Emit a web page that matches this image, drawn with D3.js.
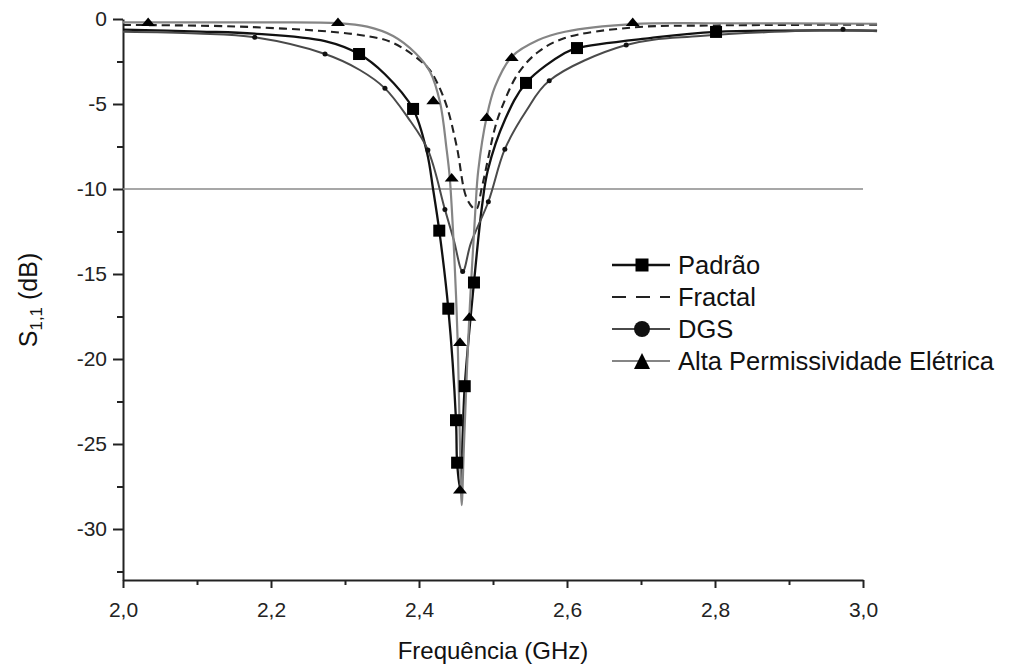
<!DOCTYPE html>
<html>
<head>
<meta charset="utf-8">
<script src="https://cdn.jsdelivr.net/npm/d3@7"></script>
<style>
  body { margin: 0; background: #fff; }
  svg { display: block; font-family: "Liberation Sans", Arial, sans-serif; }
</style>
</head>
<body>
<div id="chart"></div>
<script>
// curvas (frequência em GHz, S11 em dB)
const padraoFreq = [2.000, 2.104, 2.178, 2.273, 2.319, 2.354, 2.392, 2.411, 2.419, 2.4274, 2.4396, 2.4500, 2.4515, 2.4555, 2.4618, 2.4743, 2.485, 2.493, 2.516, 2.5446, 2.597, 2.6135, 2.712, 2.8014, 3.019];
const padraoS11 = [-0.62, -0.74, -0.86, -1.3, -2.06, -3.25, -5.29, -7.9, -10.0, -12.45, -17.04, -23.6, -26.1, -27.6, -21.6, -15.5, -11.06, -8.9, -5.94, -3.76, -2.0, -1.71, -1.12, -0.76, -0.68];
const padraoMarkFreq = [2.319, 2.392, 2.4274, 2.4396, 2.4500, 2.4515, 2.4618, 2.4743, 2.5446, 2.6135, 2.8014];
const padraoMarkS11 = [-2.06, -5.29, -12.45, -17.04, -23.6, -26.1, -21.6, -15.5, -3.76, -1.71, -0.76];

const fractalFreq = [2.000, 2.172, 2.320, 2.365, 2.411, 2.424, 2.438, 2.451, 2.465, 2.477, 2.485, 2.503, 2.512, 2.534, 2.561, 2.597, 2.688, 2.800, 3.019];
const fractalS11 = [-0.35, -0.47, -0.94, -1.41, -2.82, -3.7, -5.2, -7.5, -10.6, -11.2, -9.9, -6.35, -5.2, -3.2, -1.94, -1.12, -0.5, -0.38, -0.33];

const dgsFreq = [2.000, 2.100, 2.178, 2.273, 2.320, 2.354, 2.385, 2.412, 2.435, 2.447, 2.459, 2.470, 2.4937, 2.516, 2.545, 2.576, 2.680, 2.780, 2.973, 3.019];
const dgsS11 = [-0.75, -0.85, -1.08, -2.06, -3.0, -4.08, -5.8, -7.7, -11.2, -13.0, -14.86, -13.2, -10.75, -7.66, -5.4, -3.63, -1.53, -1.0, -0.65, -0.72];
const dgsMarkFreq = [2.178, 2.273, 2.354, 2.412, 2.435, 2.459, 2.4937, 2.516, 2.576, 2.680, 2.973];
const dgsMarkS11 = [-1.08, -2.06, -4.08, -7.7, -11.2, -14.86, -10.75, -7.66, -3.63, -1.53, -0.6];

const altaFreq = [2.000, 2.034, 2.172, 2.290, 2.330, 2.365, 2.395, 2.4149, 2.4284, 2.4374, 2.4415, 2.4473, 2.4523, 2.4564, 2.4577, 2.4608, 2.4680, 2.4764, 2.4801, 2.4915, 2.5027, 2.5253, 2.5612, 2.5973, 2.6888, 2.800, 3.019];
const altaS11 = [-0.20, -0.20, -0.20, -0.24, -0.45, -1.0, -2.0, -3.1, -4.9, -7.7, -9.3, -13.6, -19.0, -27.3, -28.6, -25.0, -17.5, -11.06, -8.9, -5.75, -3.98, -2.22, -1.24, -0.75, -0.30, -0.25, -0.28];
const altaMarkFreq = [2.034, 2.2905, 2.4193, 2.4442, 2.4554, 2.4554, 2.4680, 2.4915, 2.5253, 2.6888];
const altaMarkS11 = [-0.16, -0.16, -4.76, -9.31, -18.98, -27.65, -17.5, -5.75, -2.22, -0.16];

const xTicks = [2.0, 2.2, 2.4, 2.6, 2.8, 3.0];
const xMinor = [2.1, 2.3, 2.5, 2.7, 2.9];
const yTicks = [0, -5, -10, -15, -20, -25, -30];
const yMinor = [-2.5, -7.5, -12.5, -17.5, -22.5, -27.5, -32.5];
const refLevel = -10;
const legendNames = ["Padrão", "Fractal", "DGS", "Alta Permissividade Elétrica"];

const svgWidth = 1016, svgHeight = 668;
const margin = { top: 19, left: 123 };
const width = 740, height = 561;

const x = d3.scaleLinear().domain([2, 3]).range([0, width]);
const y = d3.scaleLinear().domain([0, -33]).range([0, height]);

const svg = d3.select("#chart")
    .append("svg")
    .attr("width", svgWidth)
    .attr("height", svgHeight);

const g = svg.append("g")
    .attr("transform", `translate(${margin.left},${margin.top})`);

const comma = d => d.toFixed(1).replace(".", ",");

// eixos
const xAxis = g.append("g")
    .attr("transform", `translate(0,${height})`)
    .call(d3.axisBottom(x).tickValues(xTicks).tickFormat(comma).tickSize(8).tickSizeOuter(0));
g.append("g")
    .attr("transform", `translate(0,${height})`)
    .call(d3.axisBottom(x).tickValues(xMinor).tickFormat("").tickSize(5).tickSizeOuter(0))
    .select(".domain").remove();

const yAxis = g.append("g")
    .call(d3.axisLeft(y).tickValues(yTicks).tickFormat(d => String(d)).tickSize(10).tickSizeOuter(0));
g.append("g")
    .call(d3.axisLeft(y).tickValues(yMinor).tickFormat("").tickSize(6).tickSizeOuter(0))
    .select(".domain").remove();

g.selectAll(".domain").attr("stroke", "#222").attr("stroke-width", 2);
g.selectAll(".tick line").attr("stroke", "#222").attr("stroke-width", 2);
g.selectAll(".tick text")
    .attr("fill", "#222")
    .style("font-size", "21px")
    .style("font-family", "'Liberation Sans', Arial, sans-serif");
xAxis.selectAll(".tick text").attr("y", 22);
yAxis.selectAll(".tick text").attr("x", -16);

// linha de referência em -10 dB
g.append("line")
    .attr("x1", x(2)).attr("x2", x(3))
    .attr("y1", y(refLevel)).attr("y2", y(refLevel))
    .attr("stroke", "#8a8a8a")
    .attr("stroke-width", 1.3);

const line = d3.line()
    .x(d => x(d[0]))
    .y(d => y(d[1]))
    .curve(d3.curveCatmullRom.alpha(0.5));

const zip = (a, b) => a.map((v, i) => [v, b[i]]);

const series = [
    { name: legendNames[0], pts: zip(padraoFreq, padraoS11), marks: zip(padraoMarkFreq, padraoMarkS11), color: "#111", width: 2.3, dash: null, marker: "square" },
    { name: legendNames[1], pts: zip(fractalFreq, fractalS11), marks: [], color: "#222", width: 2.1, dash: "8,5", marker: null },
    { name: legendNames[2], pts: zip(dgsFreq, dgsS11), marks: zip(dgsMarkFreq, dgsMarkS11), color: "#4a4a4a", width: 2, dash: null, marker: "dot" },
    { name: legendNames[3], pts: zip(altaFreq, altaS11), marks: zip(altaMarkFreq, altaMarkS11), color: "#858585", width: 2.2, dash: null, marker: "tri" }
];

function drawMarker(sel, type, size) {
    if (type === "square") {
        sel.append("rect")
            .attr("x", -size / 2).attr("y", -size / 2)
            .attr("width", size).attr("height", size)
            .attr("fill", "#000");
    } else if (type === "dot") {
        sel.append("circle").attr("r", size / 2).attr("fill", "#111");
    } else if (type === "tri") {
        const w = size, h = size * (sel.classed("legend-mark") ? 1 : 0.62);
        sel.append("path")
            .attr("d", `M${-w / 2},${h / 2}L${w / 2},${h / 2}L0,${-h / 2}Z`)
            .attr("fill", "#000");
    }
}

series.forEach(s => {
    g.append("path")
        .datum(s.pts)
        .attr("fill", "none")
        .attr("stroke", s.color)
        .attr("stroke-width", s.width)
        .attr("stroke-dasharray", s.dash)
        .attr("d", line);
});

series.forEach(s => {
    const size = s.marker === "square" ? 12 : s.marker === "dot" ? 5 : 14;
    g.selectAll(null)
        .data(s.marks)
        .enter().append("g")
        .attr("transform", d => `translate(${x(d[0])},${y(d[1])})`)
        .each(function () { drawMarker(d3.select(this), s.marker, size); });
});

// legenda
const legend = svg.append("g").attr("transform", "translate(612,265)");
series.forEach((s, i) => {
    const row = legend.append("g").attr("transform", `translate(0,${i * 32})`);
    row.append("line")
        .attr("x1", 0).attr("x2", 58)
        .attr("stroke", s.color)
        .attr("stroke-width", s.width)
        .attr("stroke-dasharray", s.dash ? "14,10" : null);
    if (s.marker) {
        const m = row.append("g").attr("class", "legend-mark").attr("transform", "translate(30,0)");
        drawMarker(m, s.marker, s.marker === "square" ? 13 : 16);
    }
    row.append("text")
        .attr("x", 66)
        .attr("y", 9)
        .attr("fill", "#111")
        .style("font-size", "25.5px")
        .text(s.name);
});

// títulos dos eixos
svg.append("text")
    .attr("x", margin.left + width / 2)
    .attr("y", 659)
    .attr("text-anchor", "middle")
    .attr("fill", "#111")
    .style("font-size", "24px")
    .text("Frequência (GHz)");

const yLabel = svg.append("text")
    .attr("transform", "translate(37,300) rotate(-90)")
    .attr("text-anchor", "middle")
    .attr("fill", "#111")
    .style("font-size", "25px");
yLabel.append("tspan").text("S");
yLabel.append("tspan").attr("dy", 5).style("font-size", "17px").text("1,1");
yLabel.append("tspan").attr("dy", -5).text(" (dB)");
</script>
</body>
</html>
